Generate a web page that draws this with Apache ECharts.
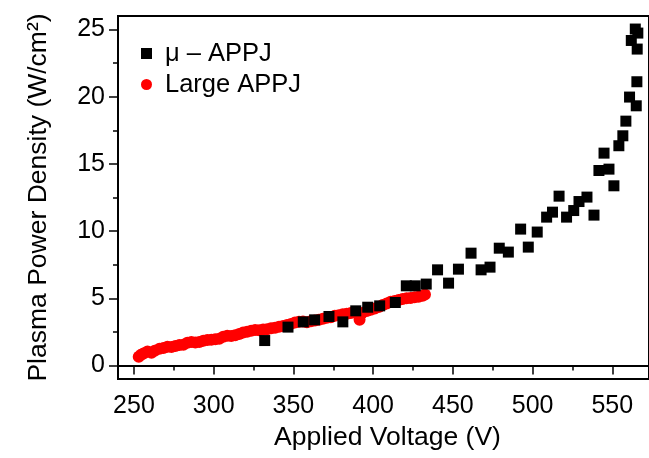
<!DOCTYPE html>
<html>
<head>
<meta charset="utf-8">
<script src="https://cdn.jsdelivr.net/npm/echarts@6/dist/echarts.min.js"></script>
<style>
html, body { margin: 0; padding: 0; background: #fff; }
#container { width: 649px; height: 458px; }
</style>
</head>
<body>
<div id="container"></div>
<script>
// μ-APPJ (black squares): [voltage, power density]
var microVolt = [332, 346.6, 356.2, 363.3, 372.3, 381, 389.1, 396.6, 404.1, 413.9,
    420.8, 426.4, 433.3, 440.4, 447.3, 453.5, 461.4, 467.7, 473.3, 479.1,
    484.8, 492.5, 497.3, 502.9, 508.8, 512.5, 516.6, 521.3, 525.8, 529.1,
    534.1, 538.5, 541.6, 544.8, 547.9, 551, 554.1, 556.6, 558.5, 560.8,
    565, 565.4, 561.9, 564.4, 566, 565.6];
var microPower = [1.86, 2.86, 3.25, 3.4, 3.65, 3.25, 4.07, 4.34, 4.44, 4.69,
    5.93, 5.93, 6.06, 7.12, 6.13, 7.17, 8.36, 7.12, 7.32, 8.73,
    8.44, 10.15, 8.81, 9.93, 11.04, 11.41, 12.6, 11.04, 11.53, 12.2,
    12.53, 11.19, 14.51, 15.8, 14.61, 13.37, 16.35, 17.09, 18.18, 19.97,
    19.32, 21.11, 24.18, 25.03, 24.73, 23.54];

// Large APPJ (red circles)
var largeVolt = [253, 254.5, 256, 258.5, 261, 263, 266, 268.5, 271, 273.5,
    276, 278.5, 281, 283.5, 286, 288.5, 291, 293.5, 296, 298.5,
    301, 303.5, 306, 308.5, 311, 313.5, 316, 318.5, 321, 323.5,
    326, 328.5, 331, 333.5, 336, 338.5, 341, 343.5, 346, 348.5,
    351, 353.5, 356, 358.5, 361, 363.5, 366, 368.5, 371, 373.5,
    376, 378.5, 381, 383.5, 386, 388.5, 391.5, 393, 396, 398.5,
    401, 403.5, 406, 408.5, 411, 413.5, 416, 418.5, 421, 423.5,
    426, 428.5, 431, 432.5];
var largePower = [0.65, 0.8, 0.9, 1.05, 0.95, 1.1, 1.25, 1.3, 1.4, 1.38,
    1.45, 1.52, 1.55, 1.7, 1.75, 1.72, 1.76, 1.85, 1.9, 1.92,
    1.95, 2.0, 2.15, 2.22, 2.2, 2.25, 2.35, 2.45, 2.52, 2.58,
    2.65, 2.62, 2.68, 2.7, 2.78, 2.82, 2.88, 2.95, 3.02, 3.1,
    3.2, 3.25, 3.28, 3.22, 3.3, 3.35, 3.4, 3.48, 3.55, 3.6,
    3.7, 3.75, 3.82, 3.85, 3.9, 3.95, 3.4, 3.9, 4.05, 4.15,
    4.25, 4.35, 4.5, 4.62, 4.75, 4.8, 4.88, 4.95, 5.0, 5.02,
    5.08, 5.12, 5.2, 5.28];

var xTicks = [250, 300, 350, 400, 450, 500, 550];
var xMinor = [275, 325, 375, 425, 475, 525];
var yTicks = [0, 5, 10, 15, 20, 25];
var yMinor = [2.5, 7.5, 12.5, 17.5, 22.5];

function pairs(xs, ys) {
    var out = [];
    for (var i = 0; i < xs.length; i++) {
        out.push([xs[i], ys[i]]);
    }
    return out;
}

var font = 'Liberation Sans, Arial, sans-serif';
var dom = document.getElementById('container');
var myChart = echarts.init(dom, null, { renderer: 'canvas' });

var option = {
    animation: false,
    textStyle: { fontFamily: font, color: '#000' },
    grid: {
        left: 118, top: 16, width: 533, height: 363,
        show: true, borderColor: '#000', borderWidth: 2
    },
    legend: {
        orient: 'vertical',
        left: 136, top: 33,
        itemWidth: 11, itemHeight: 11, itemGap: 0,
        data: ['μ – APPJ', 'Large APPJ'],
        textStyle: { fontFamily: font, fontSize: 25.5, color: '#000', lineHeight: 31, padding: [0, 0, 0, 8] }
    },
    xAxis: [{
        type: 'value', min: 240, max: 573,
        name: 'Applied Voltage (V)', nameLocation: 'middle', nameGap: 45,
        nameTextStyle: { fontFamily: font, fontSize: 26.5, color: '#000', padding: [0, 0, 0, 8] },
        splitLine: { show: false },
        axisLine: { lineStyle: { color: '#000', width: 2 } },
        axisTick: { customValues: xTicks, length: 9, lineStyle: { color: '#000', width: 1.5 } },
        axisLabel: { customValues: xTicks, margin: 15, fontFamily: font, fontSize: 25, color: '#000' }
    }, {
        type: 'value', min: 240, max: 573, position: 'bottom',
        splitLine: { show: false },
        axisLine: { show: false },
        axisTick: { customValues: xMinor, length: 5, lineStyle: { color: '#000', width: 1.5 } },
        axisLabel: { show: false }
    }],
    yAxis: [{
        type: 'value', min: -1, max: 26,
        name: 'Plasma Power Density (W/cm²)', nameLocation: 'middle', nameGap: 66,
        nameTextStyle: { fontFamily: font, fontSize: 26.5, color: '#000' },
        splitLine: { show: false },
        axisLine: { lineStyle: { color: '#000', width: 2 } },
        axisTick: { customValues: yTicks, length: 9, lineStyle: { color: '#000', width: 1.5 } },
        axisLabel: { customValues: yTicks, margin: 13, fontFamily: font, fontSize: 25, color: '#000' }
    }, {
        type: 'value', min: -1, max: 26, position: 'left',
        splitLine: { show: false },
        axisLine: { show: false },
        axisTick: { customValues: yMinor, length: 5, lineStyle: { color: '#000', width: 1.5 } },
        axisLabel: { show: false }
    }],
    series: [{
        name: 'Large APPJ',
        type: 'scatter',
        symbol: 'circle',
        symbolSize: 12,
        itemStyle: { color: '#ff0000', opacity: 1 },
        data: pairs(largeVolt, largePower)
    }, {
        name: 'μ – APPJ',
        type: 'scatter',
        symbol: 'rect',
        symbolSize: 11,
        itemStyle: { color: '#000', opacity: 1 },
        data: pairs(microVolt, microPower)
    }]
};

myChart.setOption(option, true);
</script>
</body>
</html>
